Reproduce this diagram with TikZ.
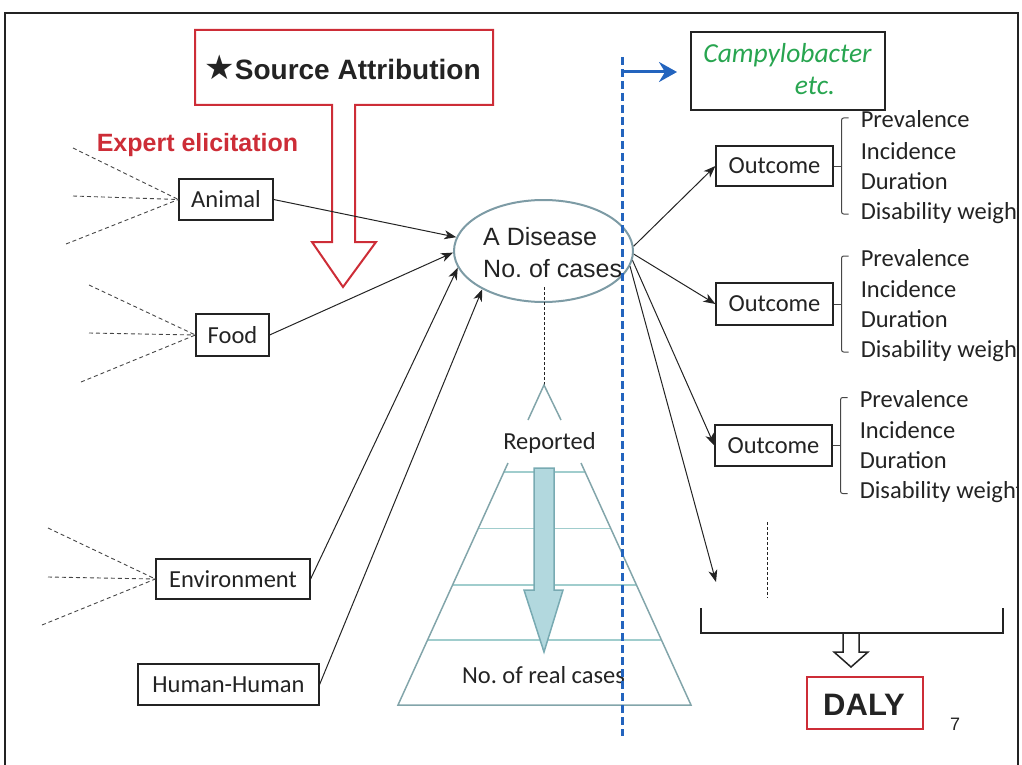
\documentclass[tikz,border=0pt]{standalone}
\usepackage{fontspec}
\setmainfont{Carlito}
\newfontfamily\arialf{Liberation Sans}
\newfontfamily\dejavuf{DejaVu Sans}
\usetikzlibrary{arrows.meta,calc,shapes.geometric}
\definecolor{txt}{RGB}{35,35,35}
\definecolor{dgray}{RGB}{70,70,70}
\definecolor{rred}{RGB}{205,45,55}
\definecolor{bblue}{RGB}{35,100,190}
\definecolor{ggreen}{RGB}{40,165,80}
\definecolor{ellc}{RGB}{125,155,165}
\definecolor{trapc}{RGB}{130,165,170}
\definecolor{hlc}{RGB}{160,205,205}
\definecolor{arrf}{RGB}{178,216,222}
\definecolor{arrd}{RGB}{120,170,178}
\newcommand\lblfont{\fontsize{24.5}{28}\selectfont}
\newcommand\lstfont{\fontsize{24.5}{28}\selectfont}
\frenchspacing
\begin{document}
\begin{tikzpicture}[x=1pt,y=-1pt,
  box/.style={draw=txt, line width=1.2pt, inner sep=0pt, text=txt, font=\lblfont},
  srcline/.style={draw=dgray, dash pattern=on 4pt off 3pt, line width=0.9pt},
  conn/.style={draw=txt, line width=1pt, -{Stealth[length=12pt,width=9pt,inset=3.5pt]}},
  lst/.style={anchor=base west, inner sep=0pt, text=txt, font=\lstfont},
  brk/.style={draw=dgray, line width=1pt, rounded corners=2pt},
  teal/.style={draw=trapc, line width=1.5pt},
  hl/.style={draw=hlc, line width=1.2pt}]
\useasboundingbox (0,0) rectangle (1022,765);

% frame
\draw[line width=2pt, txt] (5,765) -- (5,13) -- (1018,13) -- (1018,765);

% source attribution arrow
\draw[rred, line width=2pt, line join=miter]
  (195,30) -- (493,30) -- (493,105) -- (355,105) -- (355,242) -- (376,242)
  -- (343,287) -- (312,242) -- (332,242) -- (332,105) -- (195,105) -- cycle;
\node[anchor=base, inner sep=0pt, text=txt] (sa) at (342.5,80)
  {{\fontsize{34}{34}\selectfont\dejavuf ★}{\fontsize{28}{30}\selectfont\arialf\bfseries Source Attribution}};
\node[anchor=base, inner sep=0pt, text=rred] (ee) at (197.5,151)
  {\fontsize{25}{28}\selectfont\arialf\bfseries Expert elicitation};

% source boxes
\node[box, minimum width=94pt, minimum height=41pt] (animal) at (226,199.5) {Animal};
\node[box, minimum width=73pt, minimum height=42pt] (food) at (232.5,335) {Food};
\node[box, minimum width=154pt, minimum height=40pt] (env) at (233,579) {Environment};
\node[box, minimum width=181pt, minimum height=41pt] (hum) at (228.5,684.5) {Human-Human};

% expert dashed lines
\coordinate (a1) at (73,148); \coordinate (a2) at (73,196); \coordinate (a3) at (66,244);
\coordinate (f1) at (89,285); \coordinate (f2) at (89,333); \coordinate (f3) at (81,382);
\coordinate (e1) at (48,528); \coordinate (e2) at (48,577); \coordinate (e3) at (42,625);
\foreach \c in {a1,a2,a3} \draw[srcline] (\c) -- (animal.west);
\foreach \c in {f1,f2,f3} \draw[srcline] (\c) -- (food.west);
\foreach \c in {e1,e2,e3} \draw[srcline] (\c) -- (env.west);

% disease ellipse
\node[ellipse, draw=ellc, line width=2pt, minimum width=179pt, minimum height=102pt, inner sep=0pt] (dis) at (543.5,251) {};
\node[anchor=base west, inner sep=0pt, text=txt, font=\fontsize{25}{28}\selectfont\arialf] (dis1) at (483,245) {A Disease};
\node[anchor=base west, inner sep=0pt, text=txt, font=\fontsize{25}{28}\selectfont\arialf] (dis2) at (483,277) {No. of cases};

\draw[conn] (animal.east) -- (dis.171);
\draw[conn] (food.east) -- (dis.181);
\draw[conn] (env.east) -- (dis.191);
\draw[conn] (hum.east) -- (dis.212);

% reported / pyramid
\coordinate (dtop) at (544,287);
\coordinate (apex) at (544,385);
\coordinate (chl) at (528,420);
\coordinate (chr) at (561,420);
\draw[txt, line width=0.8pt, dash pattern=on 3pt off 2pt] (dtop) -- (apex);
\draw[teal] (chl) -- (apex) -- (chr);
\node[anchor=base, inner sep=0pt, text=txt, font=\fontsize{24.5}{27}\selectfont] (rep) at (549.5,449) {Reported};

\coordinate (tl) at (508,463); \coordinate (tr) at (581,463);
\coordinate (bl) at (398,705); \coordinate (br) at (691,705);
\foreach \t in {0.037,0.269,0.504,0.731}
  \draw[hl] ($(tl)!\t!(bl)$) -- ($(tr)!\t!(br)$);
\draw[teal, line join=miter] (tl) -- (bl) -- (br) -- (tr);
\draw[fill=arrf, draw=arrd, line width=1.5pt]
  (534,468) -- (554,468) -- (554,590) -- (563,590) -- (544,652) -- (524,590) -- (534,590) -- cycle;
\node[anchor=base, inner sep=0pt, text=txt, font=\fontsize{24.5}{27}\selectfont] (real) at (543.5,683) {No. of real cases};

% blue dashed line
\coordinate (btop) at (622,57);
\coordinate (bbot) at (622,736);
\coordinate (bj) at (622,72);
\coordinate (btip) at (677,72);
\draw[bblue, line width=3pt, dash pattern=on 8pt off 4pt] (btop) -- (bbot);
\draw[bblue, line width=3pt, -{Stealth[length=18pt,width=20pt,inset=6pt]}] (bj) -- (btip);

% campylobacter
\node[draw=txt, line width=1.2pt, minimum width=194pt, minimum height=78pt, inner sep=0pt] (campy) at (788,71) {};
\node[anchor=base, inner sep=0pt, text=ggreen, font=\fontsize{27.5}{30}\selectfont\itshape] (campyt) at (787.5,63) {Campylobacter};
\node[anchor=base, inner sep=0pt, text=ggreen, font=\fontsize{27.5}{30}\selectfont\itshape] (etc) at (815,95) {etc.};

% outcomes
\node[box, minimum width=117pt, minimum height=40pt] (o1) at (774.5,166) {Outcome};
\node[box, minimum width=117pt, minimum height=42pt] (o2) at (774.5,304) {Outcome};
\node[box, minimum width=117pt, minimum height=41pt] (o3) at (773.5,445.5) {Outcome};
\coordinate (o4) at (716,582);

\draw[conn] (dis.3) -- (o1.west);
\draw[conn] (dis.-2) -- (o2.west);
\draw[conn] (dis.-6) -- (o3.west);
\draw[conn] (dis.-10) -- (o4);

\begin{scope}
\clip (0,0) rectangle (1017,765);
\foreach \o in {o1,o2,o3}{
  \draw[dgray, line width=1pt] (\o.east) -- ($(\o.east)+(8,0)$);
  \draw[brk] ($(\o.east)+(15,-48)$) -- ($(\o.east)+(8,-48)$) -- ($(\o.east)+(8,48)$) -- ($(\o.east)+(15,48)$);
  \node[lst] at ($(\o.east)+(27,-38)$) {Prevalence};
  \node[lst] at ($(\o.east)+(27,-7)$) {Incidence};
  \node[lst] at ($(\o.east)+(27,23)$) {Duration};
  \node[lst] at ($(\o.east)+(27,53)$) {Disability weight};
}
\end{scope}

% dots and DALY
\coordinate (vd1) at (767,522); \coordinate (vd2) at (767,598);
\draw[txt, line width=0.8pt, dash pattern=on 3pt off 2pt] (vd1) -- (vd2);
\coordinate (bk1) at (701,608); \coordinate (bk2) at (701,633);
\coordinate (bk3) at (1003,633); \coordinate (bk4) at (1003,608);
\draw[txt, line width=2pt] (bk1) -- (bk2) -- (bk3) -- (bk4);
\draw[fill=white, draw=txt, line width=1.5pt, line join=miter]
  (843,633) -- (859,633) -- (859,652) -- (868,652) -- (851,667) -- (834,652) -- (843,652) -- cycle;
\node[draw=rred, line width=2pt, minimum width=116pt, minimum height=52pt, inner sep=0pt] (daly) at (865,703) {};
\node[anchor=base, inner sep=0pt, text=txt, font=\fontsize{31}{34}\selectfont\arialf\bfseries] (dalyt) at (864,715) {DALY};
\node[anchor=base, inner sep=0pt, text=txt, font=\fontsize{18}{20}\selectfont\arialf] (pg) at (955,730) {7};
\end{tikzpicture}
\end{document}
